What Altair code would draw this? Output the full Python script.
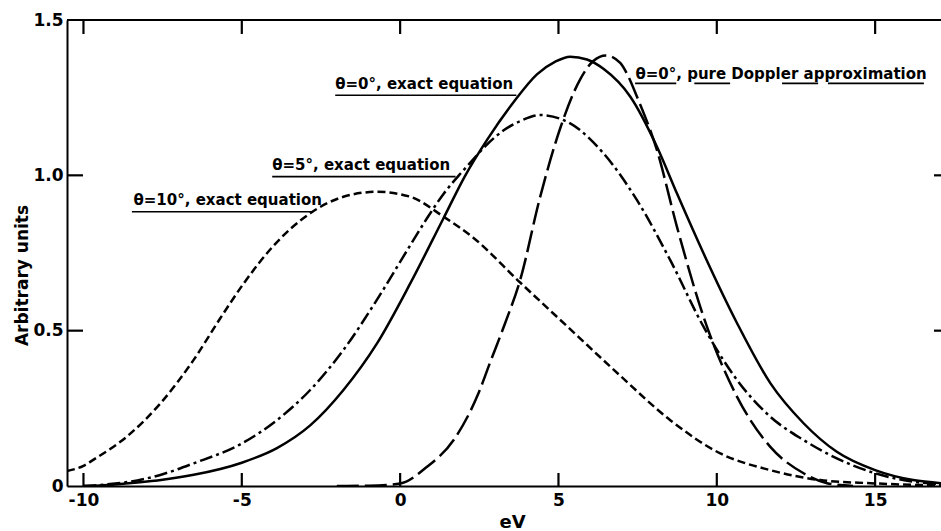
import altair as alt
import pandas as pd

# ---- series ----
exact0_x = [-10.0, -9.5, -9.0, -8.3, -7.5, -6.52, -5.0, -3.89, -2.84, -1.79, -0.73, 0.32, 1.37, 2.06, 2.75,
            3.58, 4.32, 4.9, 5.37, 5.9, 6.42, 7.27, 8.11, 8.74, 9.58, 10.64, 11.69, 12.74, 13.79, 15.0, 16.2, 17.08]
exact0_y = [0.0, 0.002, 0.005, 0.011, 0.020, 0.036, 0.075, 0.122, 0.195, 0.309, 0.459, 0.652, 0.862, 1.0, 1.115,
            1.235, 1.325, 1.366, 1.382, 1.373, 1.343, 1.253, 1.092, 0.942, 0.749, 0.524, 0.331, 0.202, 0.110, 0.051, 0.019, 0.009]

exact5_x = [-10.0, -9.5, -9.0, -8.3, -7.5, -6.52, -5.0, -3.89, -2.84, -1.79, -0.73, 0.32, 0.9, 1.37, 1.9, 2.21,
            2.75, 3.27, 3.8, 4.42, 5.37, 6.42, 7.48, 8.53, 9.58, 10.64, 11.69, 12.74, 13.79, 15.0, 16.2, 17.08]
exact5_y = [0.0, 0.003, 0.008, 0.018, 0.038, 0.073, 0.137, 0.212, 0.309, 0.438, 0.600, 0.775, 0.870, 0.940, 1.005, 1.04,
            1.10, 1.145, 1.175, 1.194, 1.167, 1.071, 0.920, 0.727, 0.513, 0.341, 0.223, 0.148, 0.089, 0.041, 0.014, 0.006]

exact10_x = [-10.52, -10.0, -9.68, -8.63, -7.57, -6.52, -5.68, -4.94, -4.0, -2.84, -1.79, -0.73, 0.32, 1.37, 2.3,
             3.79, 5.37, 6.95, 8.53, 10.11, 11.69, 13.27, 14.85, 16.5, 17.08]
exact10_y = [0.048, 0.065, 0.085, 0.159, 0.266, 0.406, 0.540, 0.652, 0.773, 0.878, 0.931, 0.947, 0.931, 0.867, 0.80,
             0.655, 0.505, 0.355, 0.212, 0.105, 0.051, 0.019, 0.009, 0.003, 0.002]

doppler_x = [-2.0, -1.0, 0.0, 0.85, 1.69, 2.48, 2.85, 3.3, 3.79, 4.42, 5.05, 5.69, 6.1, 6.5, 6.95, 7.16, 7.48, 8.11,
             8.74, 9.58, 10.64, 11.69, 12.74, 13.48, 14.3]
doppler_y = [0.0, 0.001, 0.008, 0.062, 0.148, 0.300, 0.400, 0.52, 0.663, 0.93, 1.15, 1.31, 1.368, 1.386, 1.362, 1.328, 1.253, 1.081,
             0.835, 0.545, 0.287, 0.126, 0.041, 0.009, 0.0]

x_tick_values = [-10, -5, 0, 5, 10, 15]
y_tick_values = [0, 0.5, 1.0, 1.5]
inner_y_ticks = [0.5, 1.0]

label_texts = ["θ=0°, exact equation", "θ=5°, exact equation", "θ=10°, exact equation",
               "θ=0°, pure Doppler approximation"]
label_x = [-2.05, -4.04, -8.42, 7.43]
label_y = [1.278, 1.017, 0.904, 1.31]

underline_x = [-2.05, -4.04, -8.47, 7.42, 9.29, 12.06, 13.51]
underline_x2 = [3.67, 1.75, -2.74, 8.72, 10.42, 13.20, 16.54]
underline_y = [1.258, 0.996, 0.883, 1.296, 1.296, 1.296, 1.296]

W, H = 874, 466
X_DOMAIN = [-10.52, 17.08]
Y_DOMAIN = [0, 1.5]
FONT = "DejaVu Sans"

# tick lengths (pixels) turned into data units of each scale
px_x = (X_DOMAIN[1] - X_DOMAIN[0]) / W
px_y = (Y_DOMAIN[1] - Y_DOMAIN[0]) / H

xscale = alt.Scale(domain=X_DOMAIN, nice=False, zero=False)
yscale = alt.Scale(domain=Y_DOMAIN, nice=False, zero=False)

xaxis = alt.Axis(values=x_tick_values, labelExpr="datum.value + ''", ticks=False, grid=False,
                 domain=True, domainColor="black", domainWidth=2, labelFont=FONT, labelFontSize=17,
                 labelFontWeight="bold", labelColor="black", labelPadding=6, labelFlush=False,
                 labelOverlap=False,
                 titleFont=FONT, titleFontSize=18, titleFontWeight="bold", titleColor="black",
                 titleX=445, titleY=27, titleBaseline="top", titleAnchor="start", titleAlign="center")
yaxis = alt.Axis(values=y_tick_values,
                 labelExpr="datum.value == 0 ? '0' : format(datum.value, '.1f')",
                 ticks=False, grid=False, domain=True, domainColor="black", domainWidth=2,
                 labelFont=FONT, labelFontSize=17, labelFontWeight="bold", labelColor="black",
                 labelPadding=4, labelFlush=False, labelOverlap=False,
                 titleFont=FONT, titleFontSize=17, titleFontWeight="bold", titleColor="black",
                 titleAngle=270, titleX=-45, titleY=255, titleAlign="center", titleBaseline="middle")


def X(field="x"):
    return alt.X(field, type="quantitative", scale=xscale, axis=xaxis, title="eV")


def Y(field="y"):
    return alt.Y(field, type="quantitative", scale=yscale, axis=yaxis, title="Arbitrary units")


def line(xs, ys, dash):
    df = pd.DataFrame({"x": xs, "y": ys})
    kw = dict(color="black", strokeWidth=2.5, interpolate="monotone", clip=True)
    if dash:
        kw["strokeDash"] = dash
    return alt.Chart(df).mark_line(**kw).encode(x=X(), y=Y())


l_exact0 = line(exact0_x, exact0_y, None)
l_exact5 = line(exact5_x, exact5_y, [13, 4, 3, 4])
l_exact10 = line(exact10_x, exact10_y, [8, 4])
l_doppler = line(doppler_x, doppler_y, [22, 6])

# inward ticks on all four sides
bt = pd.DataFrame({"x": x_tick_values, "y": Y_DOMAIN[0], "y2": Y_DOMAIN[0] + 13 * px_y})
tt = pd.DataFrame({"x": x_tick_values, "y": Y_DOMAIN[1], "y2": Y_DOMAIN[1] - 14 * px_y})
lt = pd.DataFrame({"y": inner_y_ticks, "x": X_DOMAIN[0], "x2": X_DOMAIN[0] + 16 * px_x})
rt = pd.DataFrame({"y": inner_y_ticks, "x": X_DOMAIN[1] - 7 * px_x, "x2": X_DOMAIN[1]})

bottom_ticks = alt.Chart(bt).mark_rule(color="black", strokeWidth=2.2).encode(x=X(), y=Y(), y2="y2:Q")
top_ticks = alt.Chart(tt).mark_rule(color="black", strokeWidth=2.2).encode(x=X(), y=Y(), y2="y2:Q")
left_ticks = alt.Chart(lt).mark_rule(color="black", strokeWidth=2.2).encode(x=X(), x2="x2:Q", y=Y())
right_ticks = alt.Chart(rt).mark_rule(color="black", strokeWidth=2.2).encode(x=X(), x2="x2:Q", y=Y())
top_border = alt.Chart(pd.DataFrame({"x": [X_DOMAIN[0]], "x2": [X_DOMAIN[1]], "y": [Y_DOMAIN[1]]})).mark_rule(
    color="black", strokeWidth=2).encode(x=X(), x2="x2:Q", y=Y())

lab = pd.DataFrame({"x": label_x, "y": label_y, "t": label_texts})
labels = alt.Chart(lab).mark_text(align="left", baseline="alphabetic", font=FONT, fontSize=15,
                                  fontWeight="bold", color="black").encode(x=X(), y=Y(), text="t:N")

ul = pd.DataFrame({"x": underline_x, "x2": underline_x2, "y": underline_y})
underlines = alt.Chart(ul).mark_rule(color="black", strokeWidth=1.6).encode(
    x=X(), x2="x2:Q", y=Y())

chart = alt.layer(
    l_exact10, l_exact5, l_exact0, l_doppler,
    bottom_ticks, top_ticks, left_ticks, right_ticks, top_border,
    underlines, labels,
).properties(
    width=W, height=H,
    autosize=alt.AutoSizeParams(type="none"),
    padding={"left": 67, "top": 20, "right": 0, "bottom": 45},
    background="white",
).configure_view(stroke=None)

chart.save("out.html", embed_options={"renderer": "svg", "actions": False})
